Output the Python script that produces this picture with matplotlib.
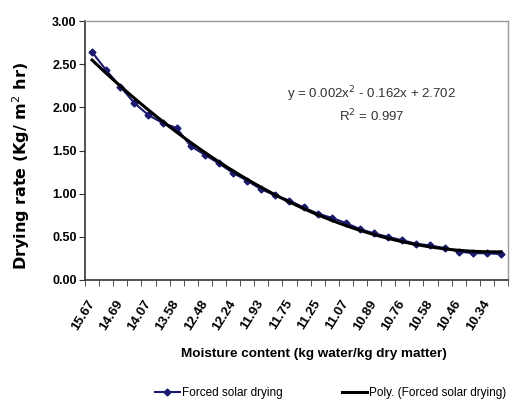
import numpy as np
import matplotlib
matplotlib.use('Agg')
from matplotlib import pyplot as plt
from matplotlib.lines import Line2D

plt.rcParams['font.family'] = ['Liberation Sans', 'DejaVu Sans']

# drying rate readings, 30 samples
rate = [2.64, 2.43, 2.24, 2.05, 1.91, 1.82, 1.76, 1.55, 1.45, 1.35,
        1.24, 1.15, 1.05, 0.98, 0.92, 0.84, 0.77, 0.72, 0.66, 0.59,
        0.54, 0.50, 0.46, 0.42, 0.40, 0.37, 0.33, 0.31, 0.31, 0.30]
# only every other category is labelled on the axis
tick_labels = ['15.67', '14.69', '14.07', '13.58', '12.48', '12.24', '11.93', '11.75',
               '11.25', '11.07', '10.89', '10.76', '10.58', '10.46', '10.34']
eq_line = 'y = 0.002x$^2$ - 0.162x + 2.702'
r2_line = 'R$^2$ = 0.997'

n = len(rate)
idx = np.arange(n)
W, H = 516, 401

fig = plt.figure(figsize=(5.16, 4.01), dpi=100)
ax = fig.add_axes([85/W, 1-280/H, (508-85)/W, (280-21)/H])

navy = '#1a1a6e'
ax.plot(idx, rate, color=navy, lw=1.5, marker='D', ms=3.5, mfc=navy, mec=navy, zorder=3)

# 2nd order poly trendline (excel style, x = 1..n)
coef = np.polyfit(idx + 1, rate, 2)
xs = np.linspace(0, n - 1, 200)
ax.plot(xs, np.polyval(coef, xs + 1), color='black', lw=2.2, zorder=4)

fig.text(372/W, 1-94/H, eq_line, ha='center', va='center', fontsize=9.5, color='#333333')
fig.text(372/W, 1-116/H, r2_line, ha='center', va='center', fontsize=9.5, color='#333333')

ax.set_xlim(-0.5, n - 0.5)
ax.set_ylim(0, 3)
yt = np.arange(0, 3.01, 0.5)
ax.set_yticks(yt)
ax.set_yticklabels(['%.2f' % v for v in yt], fontsize=9, fontweight='bold')
ax.set_xticks(np.arange(0, n, 2))
ax.set_xticklabels(tick_labels, rotation=58, ha='right', va='center', rotation_mode='anchor',
                   fontsize=9.5, fontweight='bold')
ax.set_xticks(np.arange(-0.5, n, 1), minor=True)
ax.tick_params(axis='x', which='major', length=0, pad=15)
ax.tick_params(axis='x', which='minor', length=4, color='#333333', direction='out')
ax.tick_params(axis='y', length=4, color='#333333', pad=2)

for s in ['top', 'right']:
    ax.spines[s].set_color('#999999')
    ax.spines[s].set_linewidth(1)
for s in ['left', 'bottom']:
    ax.spines[s].set_color('#333333')
    ax.spines[s].set_linewidth(1.2)

fig.text(314/W, 1-354/H, 'Moisture content (kg water/kg dry matter)', ha='center', va='center',
         fontsize=9.7, fontweight='bold')
fig.text(21/W, 1-166/H, 'Drying rate (Kg/ m$^2$ hr)', ha='center', va='center', rotation=90,
         fontsize=11.5, fontweight='bold', family='DejaVu Sans')

handles = [Line2D([], [], color=navy, lw=1.5, marker='D', ms=3.5),
           Line2D([], [], color='black', lw=2.2)]
fig.legend(handles, ['Forced solar drying', 'Poly. (Forced solar drying)'],
           loc='center left', bbox_to_anchor=(155/W, 1-393/H), ncol=2, frameon=False,
           fontsize=8.5, handlelength=2.1, columnspacing=5.0, handletextpad=0.2,
           borderpad=0, borderaxespad=0)

fig.savefig('out.png', dpi=100)
